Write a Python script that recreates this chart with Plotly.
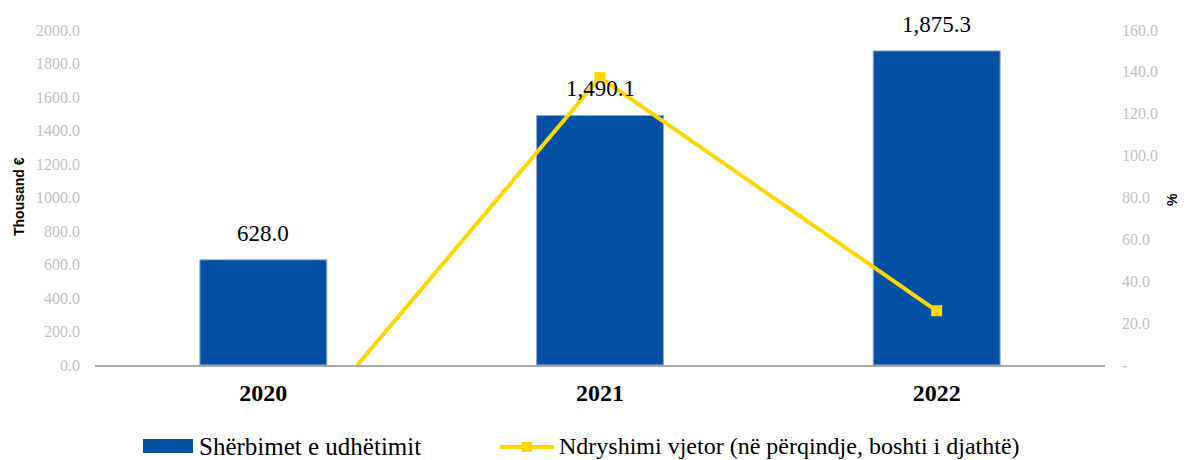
import plotly.graph_objects as go

years = ["2020", "2021", "2022"]
services = [628.0, 1490.1, 1875.3]
change_pct = [-53.3, 137.3, 25.9]

bar_name = "Shërbimet e udhëtimit"
line_name = "Ndryshimi vjetor (në përqindje, boshti i djathtë)"

left_ticks = [0, 200, 400, 600, 800, 1000, 1200, 1400, 1600, 1800, 2000]
right_ticks = [0, 20, 40, 60, 80, 100, 120, 140, 160]
right_ticktext = ["-"] + [f"{v:.1f}" for v in right_ticks[1:]]

serif = "Liberation Serif, DejaVu Serif, serif"
sans = "Liberation Sans, Arial, sans-serif"

BAR_COLOR = "#0350A4"
LINE_COLOR = "#FFD700"

# page body has an 8px margin; figure occupies 8..1187 x 8..460
W, H = 1179, 452
ML, MR, MT, MB = 87, 82, 22, 95

fig = go.Figure()
fig.add_trace(go.Bar(
    x=years, y=services, name=bar_name,
    marker=dict(color=BAR_COLOR, line=dict(color="#8FA9D6", width=1)),
    width=0.377,
    showlegend=False,
))
fig.add_trace(go.Scatter(
    x=years, y=change_pct, name=line_name, yaxis="y2",
    mode="lines+markers",
    line=dict(color=LINE_COLOR, width=4),
    marker=dict(symbol="square", size=11, color=LINE_COLOR),
    showlegend=False,
))

# value labels above bars (category index positions on the x axis)
for i, v in enumerate(services):
    fig.add_annotation(x=i, y=v, xref="x", yref="y", text=f"{v:,.1f}",
                       showarrow=False, yanchor="bottom", yshift=12,
                       font=dict(family=serif, size=23, color="#000000"))

fig.update_layout(
    width=W, height=H,
    margin=dict(l=ML, r=MR, t=MT, b=MB, autoexpand=False),
    plot_bgcolor="white", paper_bgcolor="white",
    showlegend=False,
    xaxis=dict(
        type="category", categoryorder="array", categoryarray=years,
        range=[-0.5, len(years) - 0.5],
        showline=True, linecolor="#A6A6A6", linewidth=2,
        tickfont=dict(family=serif, size=24, color="#000000", weight="bold"),
        ticks="", showgrid=False, automargin=False, ticklabelstandoff=5,
    ),
    yaxis=dict(
        range=[0, 2000], tickvals=left_ticks,
        ticktext=[f"{v:.1f}" for v in left_ticks],
        tickfont=dict(family=serif, size=16, color="#BFBFBF"),
        showgrid=False, zeroline=False, showline=False, ticks="",
        automargin=False, ticklabelstandoff=14,
    ),
    yaxis2=dict(
        range=[0, 160], tickvals=right_ticks, ticktext=right_ticktext,
        overlaying="y", side="right",
        tickfont=dict(family=serif, size=16, color="#BFBFBF"),
        showgrid=False, zeroline=False, showline=False, ticks="",
        automargin=False, ticklabelstandoff=16,
    ),
)

pw = W - ML - MR
ph = H - MT - MB
def px(xp):
    return (xp - ML) / pw
def py(yp):
    return 1 - (yp - MT) / ph

# axis titles
fig.add_annotation(text="<b>Thousand €</b>", x=px(11), y=py(189), xref="paper", yref="paper",
                   xanchor="center", yanchor="middle",
                   showarrow=False, textangle=-90,
                   font=dict(family=sans, size=14, color="#000000"))
fig.add_annotation(text="<b>%</b>", x=px(1164), y=py(192), xref="paper", yref="paper",
                   xanchor="center", yanchor="middle",
                   showarrow=False, textangle=-90,
                   font=dict(family=sans, size=14, color="#000000"))

# legend (drawn manually to match swatch shapes)
LEG_Y = 438
fig.add_shape(type="rect", xref="paper", yref="paper",
              x0=px(135), x1=px(185), y0=py(431), y1=py(445),
              fillcolor=BAR_COLOR, line=dict(width=0))
fig.add_annotation(text=bar_name, x=px(189), y=py(LEG_Y), xref="paper", yref="paper",
                   xanchor="left", yanchor="middle", showarrow=False,
                   font=dict(family=serif, size=25, color="#000000"))
fig.add_shape(type="line", xref="paper", yref="paper",
              x0=px(492), x1=px(546), y0=py(439), y1=py(439),
              line=dict(color=LINE_COLOR, width=4))
fig.add_shape(type="rect", xref="paper", yref="paper",
              x0=px(514), x1=px(524), y0=py(434), y1=py(444),
              fillcolor=LINE_COLOR, line=dict(width=0))
fig.add_annotation(text=line_name, x=px(549), y=py(LEG_Y), xref="paper", yref="paper",
                   xanchor="left", yanchor="middle", showarrow=False,
                   font=dict(family=serif, size=24, color="#000000"))

fig.write_html("out.html")
